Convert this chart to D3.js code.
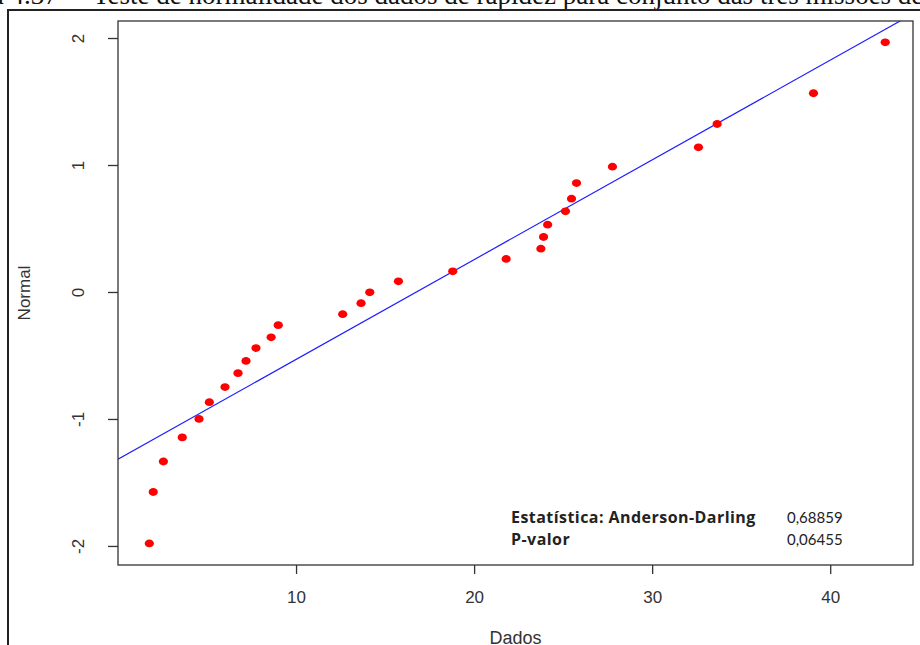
<!DOCTYPE html>
<html>
<head>
<meta charset="utf-8">
<script src="https://cdn.jsdelivr.net/npm/d3@7"></script>
<style>
  html, body { margin: 0; padding: 0; background: #fff; }
  svg { display: block; }
</style>
</head>
<body>
<svg id="chart" width="920" height="645"></svg>
<script>
// Observed data (Dados) and their normal scores (Normal)
const dados = [1.76, 1.98, 2.55, 3.61, 4.55, 5.13, 6.01, 6.74, 7.19, 7.75, 8.6, 9.0,
  12.62, 13.65, 14.14, 15.75, 18.8, 21.8, 23.75, 23.9, 24.13, 25.13, 25.47, 25.75,
  27.77, 32.6, 33.65, 39.06, 43.09];
const normal = [-1.98, -1.575, -1.335, -1.145, -1.0, -0.868, -0.749, -0.639, -0.543,
  -0.442, -0.357, -0.261, -0.175, -0.088, -0.003, 0.084, 0.163, 0.26, 0.341, 0.433,
  0.53, 0.635, 0.735, 0.858, 0.987, 1.139, 1.323, 1.565, 1.966];

// Fitted normal reference line parameters
const fitMean = 16.76;
const fitSd = 12.73;

const xTicks = [10, 20, 30, 40];
const yTicks = [-2, -1, 0, 1, 2];

const statLabels = ["Estatística: Anderson-Darling", "P-valor"];
const statValues = ["0,68859", "0,06455"];

const captionNumber = "Figura 4.37 –";
const captionText = "Teste de normalidade dos dados de rapidez para conjunto das três missões de";

const svg = d3.select("#chart");

const plot = { left: 118, right: 913, top: 21, bottom: 565 };

const x = d3.scaleLinear().domain([0, 44.65]).range([plot.left, plot.right]);
const y = d3.scaleLinear().domain([-2.15, 2.134]).range([plot.bottom, plot.top]);

// Caption line at the top of the page (mostly outside the view)
const captionFont = "Liberation Serif, Times New Roman, serif";
svg.append("text")
  .attr("x", 78).attr("y", 4)
  .attr("text-anchor", "end")
  .attr("font-family", captionFont)
  .attr("font-size", 27)
  .attr("fill", "#111")
  .text(captionNumber);
svg.append("text")
  .attr("x", 93).attr("y", 4)
  .attr("font-family", captionFont)
  .attr("font-size", 27)
  .attr("fill", "#111")
  .text(captionText);

// Outer figure frame
svg.append("rect")
  .attr("x", 8).attr("y", 10)
  .attr("width", 930).attr("height", 660)
  .attr("fill", "none")
  .attr("stroke", "#222")
  .attr("stroke-width", 2);

// Clip for the reference line
svg.append("clipPath").attr("id", "plotClip")
  .append("rect")
  .attr("x", plot.left).attr("y", plot.top)
  .attr("width", plot.right - plot.left)
  .attr("height", plot.bottom - plot.top);

// Reference line of the fitted normal distribution
const lineX = x.domain();
const refLine = d3.line()
  .x(d => x(d))
  .y(d => y((d - fitMean) / fitSd));
svg.append("path")
  .datum(lineX)
  .attr("clip-path", "url(#plotClip)")
  .attr("d", refLine)
  .attr("fill", "none")
  .attr("stroke", "#1f1fff")
  .attr("stroke-width", 1.2);

// Points
svg.append("g").selectAll("ellipse")
  .data(dados.map((d, i) => [d, normal[i]]))
  .join("ellipse")
  .attr("cx", d => x(d[0]))
  .attr("cy", d => y(d[1]))
  .attr("rx", 4.6)
  .attr("ry", 3.9)
  .attr("fill", "#ff0000");

// Plot box
svg.append("rect")
  .attr("x", plot.left).attr("y", plot.top)
  .attr("width", plot.right - plot.left)
  .attr("height", plot.bottom - plot.top)
  .attr("fill", "none")
  .attr("stroke", "#333")
  .attr("stroke-width", 1.3);

const axisFont = "Liberation Sans, Arial, sans-serif";
const plainNumber = d => String(d);

// X axis
const xAxis = svg.append("g")
  .attr("transform", `translate(0,${plot.bottom})`)
  .call(d3.axisBottom(x).tickValues(xTicks).tickSize(9).tickPadding(17).tickFormat(plainNumber));
xAxis.select(".domain").remove();
xAxis.selectAll(".tick line").attr("stroke", "#333").attr("stroke-width", 1.3);
xAxis.selectAll(".tick text")
  .attr("font-family", axisFont).attr("font-size", 17).attr("fill", "#333");

// Y axis
const yAxis = svg.append("g")
  .attr("transform", `translate(${plot.left},0)`)
  .call(d3.axisLeft(y).tickValues(yTicks).tickSize(10).tickFormat(plainNumber));
yAxis.select(".domain").remove();
yAxis.selectAll(".tick line").attr("stroke", "#333").attr("stroke-width", 1.3);
yAxis.selectAll(".tick text")
  .attr("font-family", axisFont).attr("font-size", 17).attr("fill", "#333")
  .attr("text-anchor", "middle")
  .attr("dy", null)
  .attr("dominant-baseline", "central")
  .attr("x", null)
  .attr("transform", "translate(-40,0) rotate(-90)");

// Axis titles
svg.append("text")
  .attr("x", (plot.left + plot.right) / 2).attr("y", 644)
  .attr("text-anchor", "middle")
  .attr("font-family", axisFont).attr("font-size", 18).attr("fill", "#333")
  .text("Dados");
svg.append("text")
  .attr("transform", `translate(24,${(plot.top + plot.bottom) / 2}) rotate(-90)`)
  .attr("text-anchor", "middle")
  .attr("dominant-baseline", "central")
  .attr("font-family", axisFont).attr("font-size", 17).attr("fill", "#333")
  .text("Normal");

// Test statistics table
statLabels.forEach((lab, i) => {
  svg.append("text")
    .attr("x", 511).attr("y", 523 + i * 22)
    .attr("font-family", "Open Sans, Lato, sans-serif")
    .attr("font-size", 16).attr("font-weight", 700)
    .attr("letter-spacing", 0.45)
    .attr("fill", "#222")
    .text(lab);
  svg.append("text")
    .attr("x", 787).attr("y", 523 + i * 22)
    .attr("font-family", "Lato, Open Sans, sans-serif")
    .attr("font-size", 15)
    .attr("fill", "#222")
    .text(statValues[i]);
});
</script>
</body>
</html>
